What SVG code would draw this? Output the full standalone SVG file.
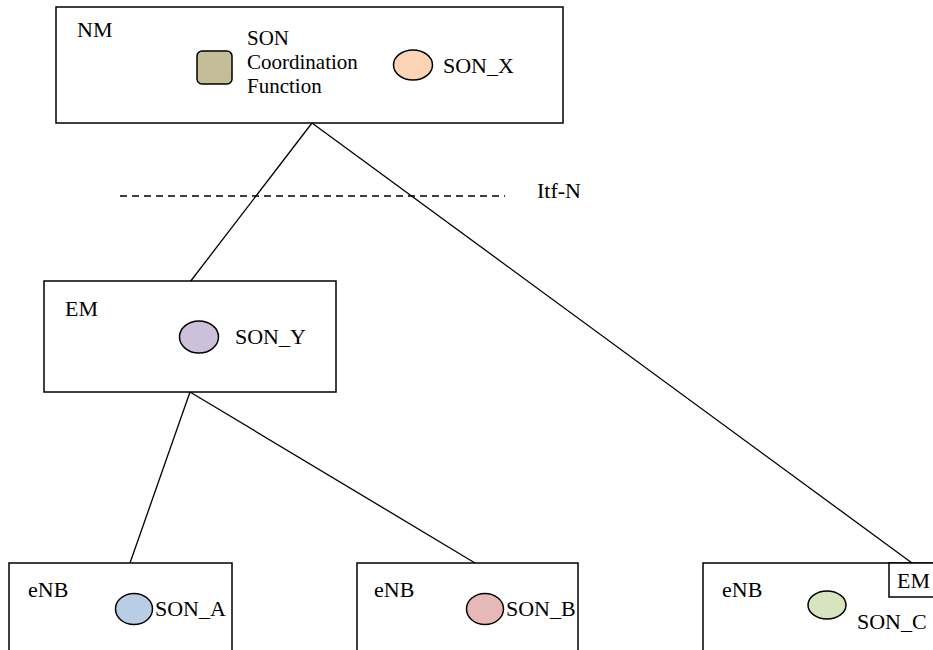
<svg xmlns="http://www.w3.org/2000/svg" width="933" height="650" viewBox="0 0 933 650">
<style>
.box{fill:#fff;stroke:#000;stroke-width:1.5}
.lbl{font-family:"Liberation Serif","Times New Roman",serif;font-size:22px;fill:#000}
.sm{font-family:"Liberation Serif","Times New Roman",serif;font-size:21px;fill:#000}
.ov{stroke:#000;stroke-width:1.5}
.ln{stroke:#000;stroke-width:1.3;fill:none}
</style>
<rect width="933" height="650" fill="#fff"/>
<g id="connectors">
<line class="ln" x1="312" y1="123" x2="190" y2="282"/>
<line class="ln" x1="312" y1="123" x2="912" y2="563"/>
<line class="ln" x1="190" y1="392" x2="130" y2="563"/>
<line class="ln" x1="190" y1="392" x2="475" y2="563"/>
<line class="ln" x1="120" y1="196" x2="505" y2="196" stroke-dasharray="7,5"/>
</g>
<g id="itfn"><text class="lbl" x="537" y="198">Itf-N</text></g>
<g id="nm">
<rect class="box" x="56" y="7" width="507" height="116"/>
<text class="lbl" x="77" y="37">NM</text>
<rect class="ov" x="197" y="51" width="35" height="33" rx="5" fill="#c4bd97"/>
<text class="sm" x="247" y="45">SON</text>
<text class="sm" x="247" y="69">Coordination</text>
<text class="sm" x="247" y="93">Function</text>
<ellipse class="ov" cx="413" cy="65" rx="19.5" ry="15" fill="#fbd5b5"/>
<text class="lbl" x="443" y="73">SON_X</text>
</g>
<g id="em">
<rect class="box" x="44" y="281" width="292" height="111"/>
<text class="lbl" x="65" y="316">EM</text>
<ellipse class="ov" cx="199" cy="337" rx="19.5" ry="16" fill="#ccc0da"/>
<text class="lbl" x="235" y="344">SON_Y</text>
</g>
<g id="enb-a">
<rect class="box" x="9" y="563" width="223" height="100"/>
<text class="lbl" x="28" y="597">eNB</text>
<ellipse class="ov" cx="134" cy="609" rx="18.5" ry="15.5" fill="#b9cde5"/>
<text class="lbl" x="155" y="616">SON_A</text>
</g>
<g id="enb-b">
<rect class="box" x="357" y="563" width="221" height="100"/>
<text class="lbl" x="374" y="597">eNB</text>
<ellipse class="ov" cx="485" cy="609" rx="18.5" ry="15.5" fill="#e6b9b8"/>
<text class="lbl" x="506" y="616">SON_B</text>
</g>
<g id="enb-c">
<rect class="box" x="703" y="563" width="240" height="100"/>
<text class="lbl" x="722" y="597">eNB</text>
<ellipse class="ov" cx="827" cy="605" rx="19" ry="14" fill="#d7e4bd"/>
<text class="lbl" x="857" y="629">SON_C</text>
<rect class="box" x="889" y="563" width="50" height="34"/>
<text class="lbl" x="897" y="588">EM</text>
</g>
</svg>
